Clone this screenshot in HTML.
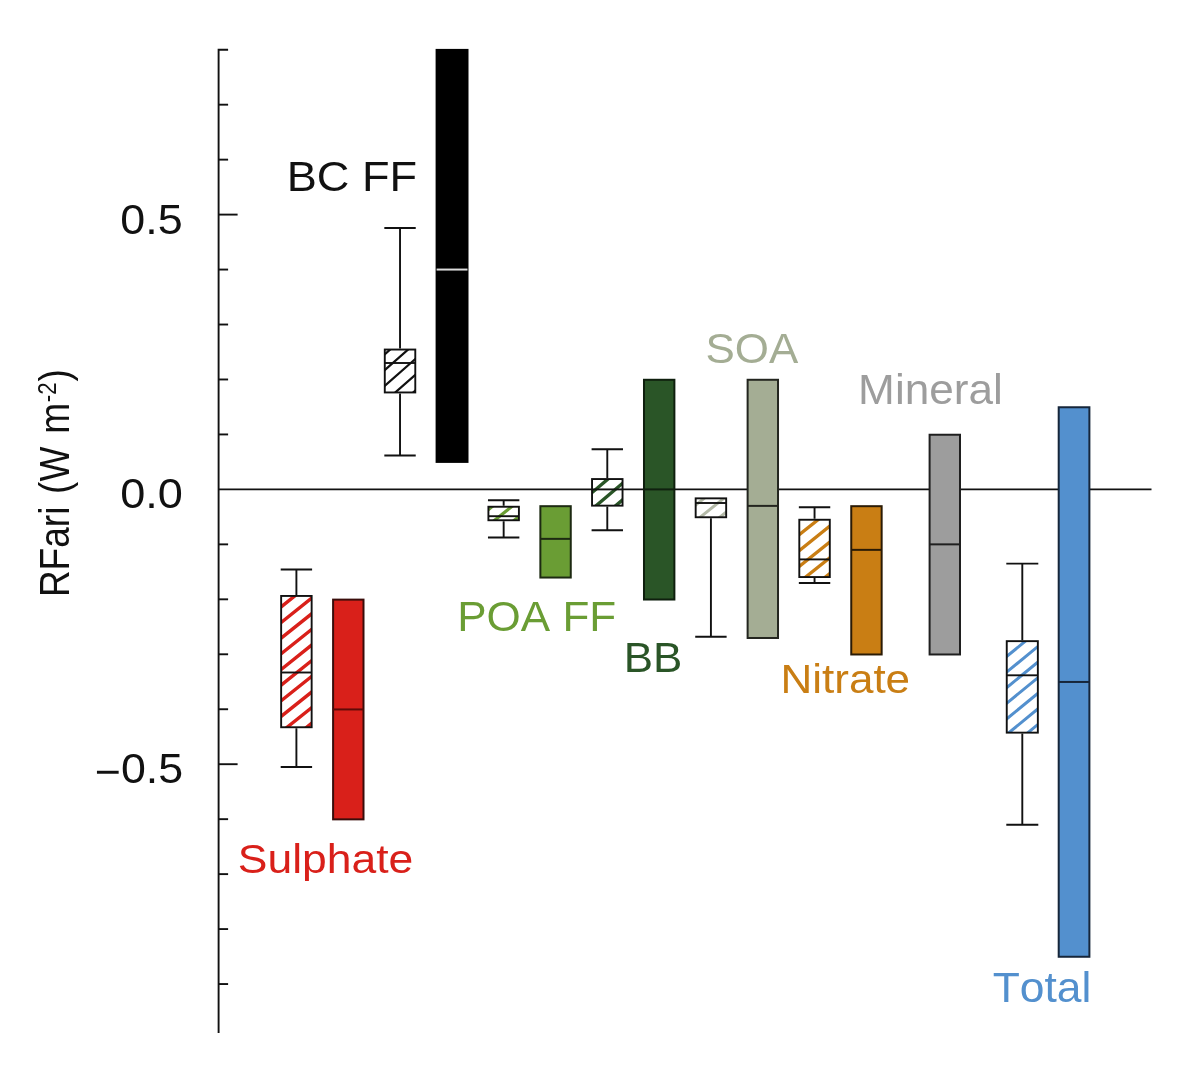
<!DOCTYPE html>
<html lang="en"><head><meta charset="utf-8"><title>RFari</title>
<style>
html,body{margin:0;padding:0;background:#fff;}
body{width:1181px;height:1069px;overflow:hidden;}
svg{display:block;}
text{font-family:"Liberation Sans",Arial,Helvetica,sans-serif;font-kerning:none;}
</style></head><body>
<svg width="1181" height="1069" viewBox="0 0 1181 1069">
<rect width="1181" height="1069" fill="#ffffff"/>
<defs>
</defs>
<g stroke="#111111" stroke-width="1.9" fill="none" stroke-linecap="butt">
<path d="M228.1 49.7H218.6V1033"/>
<path d="M218.6 104.68h9.5"/>
<path d="M218.6 159.64h9.5"/>
<path d="M218.6 214.60h19"/>
<path d="M218.6 269.56h9.5"/>
<path d="M218.6 324.52h9.5"/>
<path d="M218.6 379.48h9.5"/>
<path d="M218.6 434.44h9.5"/>
<path d="M218.6 544.36h9.5"/>
<path d="M218.6 599.32h9.5"/>
<path d="M218.6 654.28h9.5"/>
<path d="M218.6 709.24h9.5"/>
<path d="M218.6 764.20h19"/>
<path d="M218.6 819.16h9.5"/>
<path d="M218.6 874.12h9.5"/>
<path d="M218.6 929.08h9.5"/>
<path d="M218.6 984.04h9.5"/>
<path d="M218.6 489.40H1151.5"/>
</g>
<clipPath id="c1"><rect x="281.15" y="595.95" width="30.50" height="131.30"/></clipPath>
<g stroke="#111111" stroke-width="1.9" fill="none">
<path d="M296.40 595.00V569.50M280.70 569.50H312.10"/>
<path d="M296.40 728.20V767.00M280.70 767.00H312.10"/>
<rect x="281.15" y="595.95" width="30.50" height="131.30" fill="#fff" stroke="none"/>
<path clip-path="url(#c1)" d="M276.20 595.15L316.60 562.83M276.20 610.80L316.60 578.48M276.20 626.45L316.60 594.13M276.20 642.10L316.60 609.78M276.20 657.75L316.60 625.43M276.20 673.40L316.60 641.08M276.20 689.05L316.60 656.73M276.20 704.70L316.60 672.38M276.20 720.35L316.60 688.03M276.20 736.00L316.60 703.68M276.20 751.65L316.60 719.33M276.20 767.30L316.60 734.98" stroke="#d9201a" stroke-width="3.4"/>
<rect x="281.15" y="595.95" width="30.50" height="131.30"/>
<path d="M281.15 672.50H311.65" stroke="#111111"/>
</g>
<rect x="333.10" y="599.62" width="30.40" height="219.74" fill="#d9201a" stroke="#3a0d0b" stroke-width="2.0"/>
<path d="M333.10 709.44H363.50" stroke="#5e0a08" stroke-width="2.0" fill="none"/>
<clipPath id="c2"><rect x="384.78" y="349.55" width="30.50" height="42.90"/></clipPath>
<g stroke="#111111" stroke-width="1.9" fill="none">
<path d="M400.03 348.60V228.00M384.33 228.00H415.73"/>
<path d="M400.03 393.40V455.50M384.33 455.50H415.73"/>
<rect x="384.78" y="349.55" width="30.50" height="42.90" fill="#fff" stroke="none"/>
<path clip-path="url(#c2)" d="M379.83 342.82L420.23 307.27M379.83 358.62L420.23 323.07M379.83 374.42L420.23 338.87M379.83 390.22L420.23 354.67M379.83 406.02L420.23 370.47M379.83 421.82L420.23 386.27M379.83 437.62L420.23 402.07" stroke="#111" stroke-width="2.2"/>
<rect x="384.78" y="349.55" width="30.50" height="42.90"/>
<path d="M384.78 363.00H415.28" stroke="#111111"/>
</g>
<rect x="436.60" y="49.90" width="30.90" height="412.00" fill="#000" stroke="#000" stroke-width="2.0"/>
<path d="M436.60 269.56H467.50" stroke="#dcdcdc" stroke-width="2.0" fill="none"/>
<clipPath id="c3"><rect x="488.41" y="506.75" width="30.50" height="13.50"/></clipPath>
<g stroke="#111111" stroke-width="1.9" fill="none">
<path d="M503.66 505.80V500.30M487.96 500.30H519.36"/>
<path d="M503.66 521.20V537.50M487.96 537.50H519.36"/>
<rect x="488.41" y="506.75" width="30.50" height="13.50" fill="#fff" stroke="none"/>
<path clip-path="url(#c3)" d="M483.46 497.80L523.86 465.48M483.46 513.50L523.86 481.18M483.46 529.20L523.86 496.88M483.46 544.90L523.86 512.58M483.46 560.60L523.86 528.28" stroke="#6a9d34" stroke-width="3.2"/>
<rect x="488.41" y="506.75" width="30.50" height="13.50"/>
<path d="M488.41 516.20H518.91" stroke="#111111"/>
</g>
<rect x="540.36" y="506.19" width="30.40" height="71.35" fill="#6a9d34" stroke="#1d2a12" stroke-width="2.0"/>
<path d="M540.36 538.86H570.76" stroke="#1d2a12" stroke-width="2.0" fill="none"/>
<clipPath id="c4"><rect x="592.04" y="479.05" width="30.50" height="26.60"/></clipPath>
<g stroke="#111111" stroke-width="1.9" fill="none">
<path d="M607.29 478.10V449.20M591.59 449.20H622.99"/>
<path d="M607.29 506.60V530.30M591.59 530.30H622.99"/>
<rect x="592.04" y="479.05" width="30.50" height="26.60" fill="#fff" stroke="none"/>
<path clip-path="url(#c4)" d="M587.09 480.20L627.49 445.86M587.09 496.80L627.49 462.46M587.09 513.40L627.49 479.06M587.09 530.00L627.49 495.66M587.09 546.60L627.49 512.26" stroke="#2a5527" stroke-width="3.4"/>
<rect x="592.04" y="479.05" width="30.50" height="26.60"/>
<path d="M592.04 489.40H622.54" stroke="#111111"/>
</g>
<rect x="643.99" y="379.78" width="30.40" height="219.74" fill="#2a5527" stroke="#0f1f0e" stroke-width="2.0"/>
<path d="M643.99 489.40H674.39" stroke="#10200f" stroke-width="2.0" fill="none"/>
<clipPath id="c5"><rect x="695.67" y="498.35" width="30.50" height="18.90"/></clipPath>
<g stroke="#111111" stroke-width="1.9" fill="none">
<path d="M710.92 518.20V636.80M695.22 636.80H726.62"/>
<rect x="695.67" y="498.35" width="30.50" height="18.90" fill="#fff" stroke="none"/>
<path clip-path="url(#c5)" d="M690.72 493.40L731.12 461.08M690.72 509.10L731.12 476.78M690.72 524.80L731.12 492.48M690.72 540.50L731.12 508.18M690.72 556.20L731.12 523.88" stroke="#b4baa8" stroke-width="3.0"/>
<rect x="695.67" y="498.35" width="30.50" height="18.90"/>
<path d="M695.67 503.00H726.17" stroke="#111111"/>
</g>
<rect x="747.62" y="379.78" width="30.40" height="258.21" fill="#a4ad94" stroke="#23251f" stroke-width="2.0"/>
<path d="M747.62 505.89H778.02" stroke="#23251f" stroke-width="2.0" fill="none"/>
<clipPath id="c6"><rect x="799.30" y="519.75" width="30.50" height="57.30"/></clipPath>
<g stroke="#111111" stroke-width="1.9" fill="none">
<path d="M814.55 518.80V507.30M798.85 507.30H830.25"/>
<path d="M814.55 578.00V583.00M798.85 583.00H830.25"/>
<rect x="799.30" y="519.75" width="30.50" height="57.30" fill="#fff" stroke="none"/>
<path clip-path="url(#c6)" d="M794.35 507.10L834.75 474.78M794.35 522.90L834.75 490.58M794.35 538.70L834.75 506.38M794.35 554.50L834.75 522.18M794.35 570.30L834.75 537.98M794.35 586.10L834.75 553.78M794.35 601.90L834.75 569.58M794.35 617.70L834.75 585.38" stroke="#c97e14" stroke-width="3.3"/>
<rect x="799.30" y="519.75" width="30.50" height="57.30"/>
<path d="M799.30 559.40H829.80" stroke="#111111"/>
</g>
<rect x="851.25" y="506.19" width="30.40" height="148.29" fill="#c97e14" stroke="#2b1b05" stroke-width="2.0"/>
<path d="M851.25 549.86H881.65" stroke="#2b1b05" stroke-width="2.0" fill="none"/>
<rect x="929.60" y="434.74" width="30.40" height="219.74" fill="#9d9d9d" stroke="#1f1f1f" stroke-width="2.0"/>
<path d="M929.60 544.36H960.00" stroke="#1f1f1f" stroke-width="2.0" fill="none"/>
<clipPath id="c7"><rect x="1006.75" y="641.15" width="31.10" height="91.50"/></clipPath>
<g stroke="#111111" stroke-width="1.9" fill="none">
<path d="M1022.30 640.20V563.60M1006.30 563.60H1038.30"/>
<path d="M1022.30 733.60V824.80M1006.30 824.80H1038.30"/>
<rect x="1006.75" y="641.15" width="31.10" height="91.50" fill="#fff" stroke="none"/>
<path clip-path="url(#c7)" d="M1001.80 629.28L1042.80 595.66M1001.80 644.88L1042.80 611.26M1001.80 660.48L1042.80 626.86M1001.80 676.08L1042.80 642.46M1001.80 691.68L1042.80 658.06M1001.80 707.28L1042.80 673.66M1001.80 722.88L1042.80 689.26M1001.80 738.48L1042.80 704.86M1001.80 754.08L1042.80 720.46M1001.80 769.68L1042.80 736.06" stroke="#5390ce" stroke-width="3.0"/>
<rect x="1006.75" y="641.15" width="31.10" height="91.50"/>
<path d="M1006.75 675.30H1037.85" stroke="#111111"/>
</g>
<rect x="1058.70" y="407.26" width="30.70" height="549.50" fill="#5390ce" stroke="#16263a" stroke-width="2.0"/>
<path d="M1058.70 681.96H1089.40" stroke="#16263a" stroke-width="2.0" fill="none"/>
<text transform="translate(120.37 234.0) scale(1.0673 1)" font-size="42" word-spacing="0" fill="#111">0.5</text>
<text transform="translate(120.15 508.3) scale(1.0745 1)" font-size="42" word-spacing="0" fill="#111">0.0</text>
<text transform="translate(94.77 783.2) scale(1.0646 1)" font-size="42" word-spacing="0" fill="#111"><tspan dy="2.7">−</tspan><tspan dy="-2.7">0.5</tspan></text>
<text transform="translate(286.72 191.0) scale(1.0593 1)" font-size="42.6" word-spacing="0" fill="#111">BC FF</text>
<text transform="translate(237.75 872.9) scale(1.0767 1)" font-size="41.3" word-spacing="0" fill="#d9201a">Sulphate</text>
<text transform="translate(457.18 630.8) scale(1.0389 1)" font-size="42.4" word-spacing="0" fill="#6a9d34">POA FF</text>
<text transform="translate(623.69 671.7) scale(1.0353 1)" font-size="42.4" word-spacing="0" fill="#2a5527">BB</text>
<text transform="translate(705.53 362.8) scale(1.0368 1)" font-size="42.4" word-spacing="0" fill="#a4ad94">SOA</text>
<text transform="translate(780.42 693.0) scale(1.0585 1)" font-size="41.6" word-spacing="0" fill="#c97e14">Nitrate</text>
<text transform="translate(858.11 403.6) scale(1.0618 1)" font-size="41.6" word-spacing="0" fill="#9d9d9d">Mineral</text>
<text transform="translate(992.64 1001.7) scale(1.0618 1)" font-size="41.8" word-spacing="0" fill="#5390ce">Total</text>
<text transform="translate(69.1 597.12) rotate(-90) scale(0.9747 1.1)" font-size="38" word-spacing="2.5" fill="#111">RFari (W m<tspan font-size="23" dy="-11.5" dx="0.9">-2</tspan><tspan dy="11.5" dx="0.6">)</tspan></text>
</svg></body></html>
